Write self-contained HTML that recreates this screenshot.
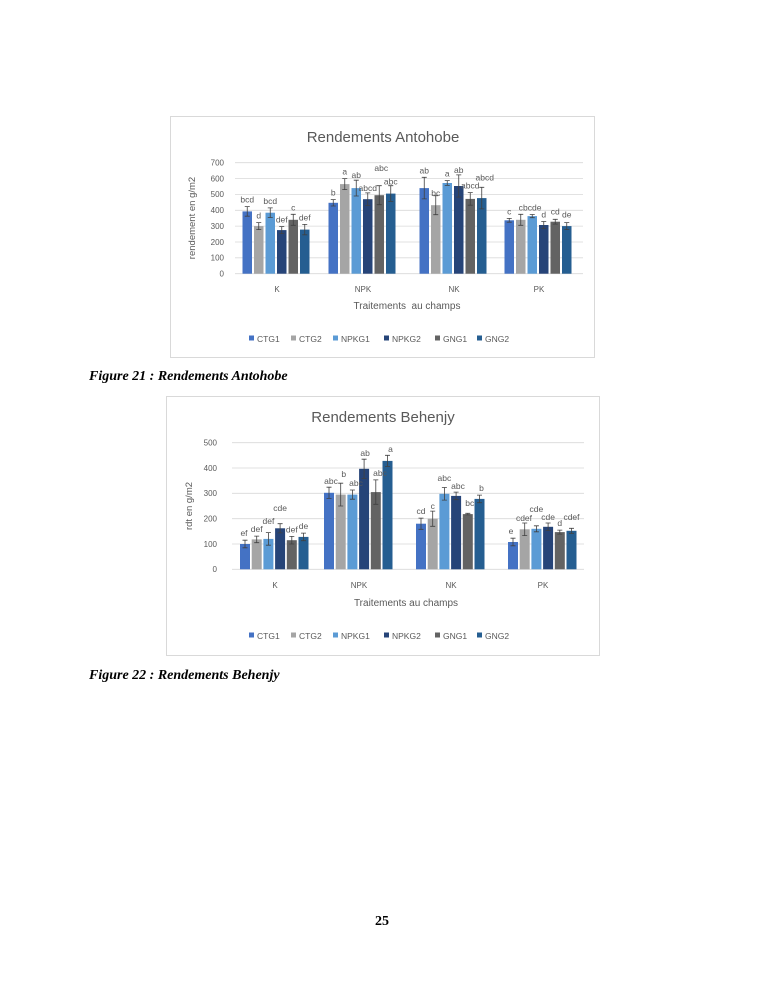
<!DOCTYPE html>
<html><head><meta charset="utf-8"><style>
html,body{margin:0;padding:0;background:#fff;}
svg{display:block;}
.t{font-family:"Liberation Sans",sans-serif;fill:#595959;}
.cap{font-family:"Liberation Serif",serif;font-weight:bold;font-style:italic;font-size:14px;fill:#000;}
</style></head><body>
<svg width="765" height="990" viewBox="0 0 765 990" xmlns="http://www.w3.org/2000/svg">
<rect width="765" height="990" fill="#fff"/>
<!-- Chart 1 -->
<rect x="170.5" y="116.5" width="424" height="241" fill="#fff" stroke="#d9d9d9"/>
<text class="t" x="383" y="142" font-size="15" text-anchor="middle">Rendements Antohobe</text>
<g stroke="#d9d9d9" stroke-width="0.8">
<line x1="235" x2="583" y1="162.7" y2="162.7"/><line x1="235" x2="583" y1="178.6" y2="178.6"/><line x1="235" x2="583" y1="194.4" y2="194.4"/><line x1="235" x2="583" y1="210.3" y2="210.3"/><line x1="235" x2="583" y1="226.1" y2="226.1"/><line x1="235" x2="583" y1="242" y2="242"/><line x1="235" x2="583" y1="257.8" y2="257.8"/><line x1="235" x2="583" y1="273.7" y2="273.7"/>
</g>
<g class="t" font-size="8" text-anchor="end">
<text x="224" y="165.5">700</text><text x="224" y="181.4">600</text><text x="224" y="197.2">500</text><text x="224" y="213.1">400</text><text x="224" y="228.9">300</text><text x="224" y="244.8">200</text><text x="224" y="260.6">100</text><text x="224" y="276.5">0</text>
</g>
<text class="t" font-size="9.5" text-anchor="middle" transform="translate(195,218) rotate(-90)">rendement en g/m2</text>
<g>
<rect x="242.5" y="211.4" width="9.5" height="62.3" fill="#4472C4"/><rect x="254" y="226.1" width="9.5" height="47.6" fill="#A5A5A5"/><rect x="265.5" y="212.7" width="9.5" height="61" fill="#5B9BD5"/><rect x="277" y="230.1" width="9.5" height="43.6" fill="#264478"/><rect x="288.5" y="219.8" width="9.5" height="53.9" fill="#636363"/><rect x="300" y="229.6" width="9.5" height="44.1" fill="#255E91"/>
<rect x="328.5" y="202.8" width="9.5" height="70.9" fill="#4472C4"/><rect x="340" y="184.1" width="9.5" height="89.6" fill="#A5A5A5"/><rect x="351.5" y="188.1" width="9.5" height="85.6" fill="#5B9BD5"/><rect x="363" y="199.2" width="9.5" height="74.5" fill="#264478"/><rect x="374.5" y="195.2" width="9.5" height="78.5" fill="#636363"/><rect x="386" y="193.6" width="9.5" height="80.1" fill="#255E91"/>
<rect x="419.5" y="188.1" width="9.5" height="85.6" fill="#4472C4"/><rect x="431" y="205.2" width="9.5" height="68.5" fill="#A5A5A5"/><rect x="442.5" y="183" width="9.5" height="90.7" fill="#5B9BD5"/><rect x="454" y="186" width="9.5" height="87.7" fill="#264478"/><rect x="465.5" y="198.9" width="9.5" height="74.8" fill="#636363"/><rect x="477" y="198.1" width="9.5" height="75.6" fill="#255E91"/>
<rect x="504.5" y="220.3" width="9.5" height="53.4" fill="#4472C4"/><rect x="516" y="219.8" width="9.5" height="53.9" fill="#A5A5A5"/><rect x="527.5" y="216.1" width="9.5" height="57.6" fill="#5B9BD5"/><rect x="539" y="225" width="9.5" height="48.7" fill="#264478"/><rect x="550.5" y="221.7" width="9.5" height="52" fill="#636363"/><rect x="562" y="226.1" width="9.5" height="47.6" fill="#255E91"/>
</g>
<path stroke="#404040" stroke-width="0.8" fill="none" d="
M244.75 206.6h5M247.25 206.6V216.2M244.75 216.2h5
M256.25 222.6h5M258.75 222.6V229.6M256.25 229.6h5
M267.75 207.9h5M270.25 207.9V217.5M267.75 217.5h5
M279.25 226.6h5M281.75 226.6V233.6M279.25 233.6h5
M290.75 214.3h5M293.25 214.3V225.3M290.75 225.3h5
M302.25 224.4h5M304.75 224.4V234.8M302.25 234.8h5
M330.75 199.6h5M333.25 199.6V206M330.75 206h5
M342.25 178.6h5M344.75 178.6V189.6M342.25 189.6h5
M353.75 180.2h5M356.25 180.2V196M353.75 196h5
M365.25 192.9h5M367.75 192.9V205.5M365.25 205.5h5
M376.75 185.7h5M379.25 185.7V204.7M376.75 204.7h5
M388.25 185.7h5M390.75 185.7V201.5M388.25 201.5h5
M421.75 177.3h5M424.25 177.3V198.9M421.75 198.9h5
M433.25 195.7h5M435.75 195.7V214.7M433.25 214.7h5
M444.75 180.6h5M447.25 180.6V185.4M444.75 185.4h5
M456.25 174.9h5M458.75 174.9V197.1M456.25 197.1h5
M467.75 192.6h5M470.25 192.6V205.2M467.75 205.2h5
M479.25 187.3h5M481.75 187.3V208.9M479.25 208.9h5
M506.75 218.4h5M509.25 218.4V222.2M506.75 222.2h5
M518.25 214.3h5M520.75 214.3V225.3M518.25 225.3h5
M529.75 214.5h5M532.25 214.5V217.7M529.75 217.7h5
M541.25 221.5h5M543.75 221.5V228.5M541.25 228.5h5
M552.75 219.3h5M555.25 219.3V224.1M552.75 224.1h5
M564.25 222.6h5M566.75 222.6V229.6M564.25 229.6h5"/>
<g class="t" font-size="8.5" text-anchor="middle">
<text x="247.25" y="202.6">bcd</text><text x="258.75" y="218.6">d</text><text x="270.25" y="203.9">bcd</text><text x="281.75" y="222.6">def</text><text x="293.25" y="210.3">c</text><text x="304.75" y="220.4">def</text>
<text x="333.25" y="195.6">b</text><text x="344.75" y="174.6">a</text><text x="356.25" y="178.2">ab</text><text x="367.75" y="190.9">abcd</text><text x="381.25" y="171">abc</text><text x="390.75" y="184.5">abc</text>
<text x="424.25" y="173.3">ab</text><text x="435.75" y="196">bc</text><text x="447.25" y="176.6">a</text><text x="458.75" y="172.9">ab</text><text x="470.25" y="188.6">abcd</text><text x="484.75" y="180.3">abcd</text>
<text x="509.25" y="214.4">c</text><text x="520.75" y="210.3">c</text><text x="532.25" y="210.5">bcde</text><text x="543.75" y="217.5">d</text><text x="555.25" y="214.3">cd</text><text x="566.75" y="217.6">de</text>
</g>
<g class="t" font-size="8" text-anchor="middle">
<text x="277" y="292">K</text><text x="363" y="292">NPK</text><text x="454" y="292">NK</text><text x="539" y="292">PK</text>
</g>
<text class="t" x="407" y="309" font-size="10" text-anchor="middle">Traitements &#160;au champs</text>
<g class="t" font-size="8.5">
<rect x="249" y="335.5" width="5" height="5" fill="#4472C4"/><text x="257" y="342">CTG1</text>
<rect x="291" y="335.5" width="5" height="5" fill="#A5A5A5"/><text x="299" y="342">CTG2</text>
<rect x="333" y="335.5" width="5" height="5" fill="#5B9BD5"/><text x="341" y="342">NPKG1</text>
<rect x="384" y="335.5" width="5" height="5" fill="#264478"/><text x="392" y="342">NPKG2</text>
<rect x="435" y="335.5" width="5" height="5" fill="#636363"/><text x="443" y="342">GNG1</text>
<rect x="477" y="335.5" width="5" height="5" fill="#255E91"/><text x="485" y="342">GNG2</text>
</g>
<text class="cap" x="89" y="380">Figure 21 : Rendements Antohobe</text>

<!-- Chart 2 -->
<rect x="166.5" y="396.5" width="433" height="259" fill="#fff" stroke="#d9d9d9"/>
<text class="t" x="383" y="422" font-size="15" text-anchor="middle">Rendements Behenjy</text>
<g stroke="#d9d9d9" stroke-width="0.8">
<line x1="232" x2="584" y1="442.7" y2="442.7"/><line x1="232" x2="584" y1="468" y2="468"/><line x1="232" x2="584" y1="493.3" y2="493.3"/><line x1="232" x2="584" y1="518.7" y2="518.7"/><line x1="232" x2="584" y1="544" y2="544"/><line x1="232" x2="584" y1="569.3" y2="569.3"/>
</g>
<g class="t" font-size="8" text-anchor="end">
<text x="217" y="445.5">500</text><text x="217" y="470.8">400</text><text x="217" y="496.1">300</text><text x="217" y="521.5">200</text><text x="217" y="546.8">100</text><text x="217" y="572.1">0</text>
</g>
<text class="t" font-size="9.5" text-anchor="middle" transform="translate(192,506) rotate(-90)">rdt en g/m2</text>
<g>
<rect x="240" y="544" width="10" height="25.3" fill="#4472C4"/><rect x="251.7" y="539.4" width="10" height="29.9" fill="#A5A5A5"/><rect x="263.4" y="538.9" width="10" height="30.4" fill="#5B9BD5"/><rect x="275.1" y="528.3" width="10" height="41" fill="#264478"/><rect x="286.8" y="540.2" width="10" height="29.1" fill="#636363"/><rect x="298.5" y="536.9" width="10" height="32.4" fill="#255E91"/>
<rect x="324" y="492.8" width="10" height="76.5" fill="#4472C4"/><rect x="335.7" y="494.6" width="10" height="74.7" fill="#A5A5A5"/><rect x="347.4" y="494.6" width="10" height="74.7" fill="#5B9BD5"/><rect x="359.1" y="468.8" width="10" height="100.5" fill="#264478"/><rect x="370.8" y="492.1" width="10" height="77.2" fill="#636363"/><rect x="382.5" y="460.9" width="10" height="108.4" fill="#255E91"/>
<rect x="416" y="523.7" width="10" height="45.6" fill="#4472C4"/><rect x="427.7" y="518.7" width="10" height="50.6" fill="#A5A5A5"/><rect x="439.4" y="493.8" width="10" height="75.5" fill="#5B9BD5"/><rect x="451.1" y="495.9" width="10" height="73.4" fill="#264478"/><rect x="462.8" y="514.1" width="10" height="55.2" fill="#636363"/><rect x="474.5" y="498.9" width="10" height="70.4" fill="#255E91"/>
<rect x="508" y="542" width="10" height="27.3" fill="#4472C4"/><rect x="519.7" y="529.3" width="10" height="40" fill="#A5A5A5"/><rect x="531.4" y="528.8" width="10" height="40.5" fill="#5B9BD5"/><rect x="543.1" y="526.8" width="10" height="42.5" fill="#264478"/><rect x="554.8" y="532.1" width="10" height="37.2" fill="#636363"/><rect x="566.5" y="530.8" width="10" height="38.5" fill="#255E91"/>
</g>
<path stroke="#404040" stroke-width="0.8" fill="none" d="
M242.5 540.2h5M245 540.2V547.8M242.5 547.8h5
M254.2 536.1h5M256.7 536.1V542.7M254.2 542.7h5
M265.9 532.6h5M268.4 532.6V545.2M265.9 545.2h5
M277.6 523.7h5M280.1 523.7V532.9M277.6 532.9h5
M289.3 536.4h5M291.8 536.4V544M289.3 544h5
M301 533.1h5M303.5 533.1V540.7M301 540.7h5
M326.5 487.2h5M329 487.2V498.4M326.5 498.4h5
M338.2 483.2h5M340.7 483.2V506M338.2 506h5
M349.9 490h5M352.4 490V499.2M349.9 499.2h5
M361.6 459.2h5M364.1 459.2V478.4M361.6 478.4h5
M373.3 479.9h5M375.8 479.9V504.3M373.3 504.3h5
M385 455.3h5M387.5 455.3V466.5M385 466.5h5
M418.5 518.1h5M421 518.1V529.3M418.5 529.3h5
M430.2 511.1h5M432.7 511.1V526.3M430.2 526.3h5
M441.9 487.5h5M444.4 487.5V500.1M441.9 500.1h5
M453.6 492.1h5M456.1 492.1V499.7M453.6 499.7h5
M465.3 513.3h5M467.8 513.3V514.9M465.3 514.9h5
M477 495.1h5M479.5 495.1V502.7M477 502.7h5
M510.5 538.2h5M513 538.2V545.8M510.5 545.8h5
M522.2 523h5M524.7 523V535.6M522.2 535.6h5
M533.9 525.8h5M536.4 525.8V531.8M533.9 531.8h5
M545.6 523h5M548.1 523V530.6M545.6 530.6h5
M557.3 530.1h5M559.8 530.1V534.1M557.3 534.1h5
M569 528.3h5M571.5 528.3V533.3M569 533.3h5"/>
<g class="t" font-size="8.5" text-anchor="middle">
<text x="244" y="536.2">ef</text><text x="256.7" y="532.1">def</text><text x="268.4" y="524">def</text><text x="280.1" y="511">cde</text><text x="291.8" y="532.4">def</text><text x="303.5" y="529.1">de</text>
<text x="331" y="484">abc</text><text x="343.7" y="477">b</text><text x="356" y="486">abc</text><text x="365.1" y="456">ab</text><text x="380" y="476">abc</text><text x="390.5" y="452">a</text>
<text x="421" y="514.1">cd</text><text x="432.7" y="509">c</text><text x="444.4" y="481">abc</text><text x="458" y="489">abc</text><text x="469.8" y="506">bc</text><text x="481.5" y="491">b</text>
<text x="511" y="534.2">e</text><text x="524" y="521">cdef</text><text x="536.4" y="512">cde</text><text x="548.1" y="520">cde</text><text x="559.8" y="526.1">d</text><text x="571.5" y="520">cdef</text>
</g>
<g class="t" font-size="8" text-anchor="middle">
<text x="275" y="588">K</text><text x="359" y="588">NPK</text><text x="451" y="588">NK</text><text x="543" y="588">PK</text>
</g>
<text class="t" x="406" y="606" font-size="10" text-anchor="middle">Traitements au champs</text>
<g class="t" font-size="8.5">
<rect x="249" y="632.5" width="5" height="5" fill="#4472C4"/><text x="257" y="639">CTG1</text>
<rect x="291" y="632.5" width="5" height="5" fill="#A5A5A5"/><text x="299" y="639">CTG2</text>
<rect x="333" y="632.5" width="5" height="5" fill="#5B9BD5"/><text x="341" y="639">NPKG1</text>
<rect x="384" y="632.5" width="5" height="5" fill="#264478"/><text x="392" y="639">NPKG2</text>
<rect x="435" y="632.5" width="5" height="5" fill="#636363"/><text x="443" y="639">GNG1</text>
<rect x="477" y="632.5" width="5" height="5" fill="#255E91"/><text x="485" y="639">GNG2</text>
</g>
<text class="cap" x="89" y="679">Figure 22 : Rendements Behenjy</text>
<text x="382" y="925" font-family="Liberation Serif, serif" font-weight="bold" font-size="14" text-anchor="middle">25</text>
</svg>
</body></html>
